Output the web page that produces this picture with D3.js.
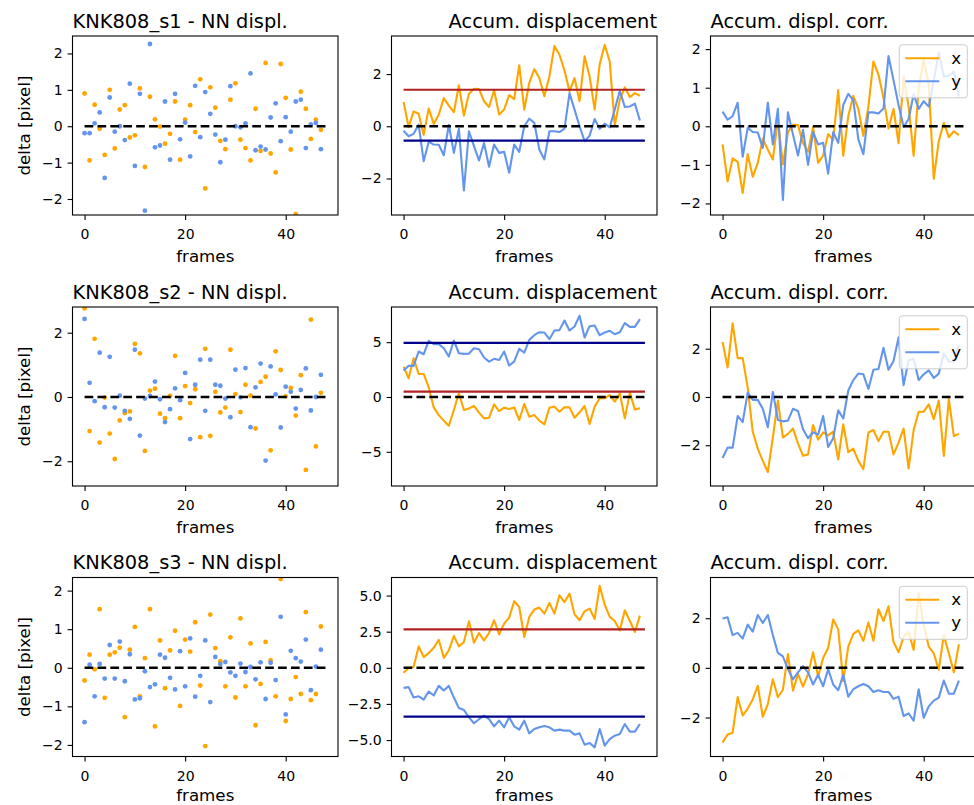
<!DOCTYPE html>
<html lang="en">
<head>
  <meta charset="utf-8">
  <title>NN displacement</title>
  <style>
    body { margin: 0; background: #fff; }
    svg { display: block; font-family: "DejaVu Sans", sans-serif; }
    .axis text { font: 14px "DejaVu Sans", sans-serif; fill: #000; }
    .axis line { stroke: #000; stroke-width: 1.1; }
    .title { font-size: 19.4px; fill: #000; }
    .label { font-size: 16.7px; fill: #000; }
    .legend text { font-size: 16.7px; fill: #000; }
  </style>
</head>
<body>
  <script src="https://cdn.jsdelivr.net/npm/d3@7"></script>
  <script>
    // frames and samples
    var frames = d3.range(48);
    var samples = ["KNK808_s1", "KNK808_s2", "KNK808_s3"];

    // nearest neighbour displacement per frame
    var nnX1 = [0.90,-0.94,0.59,-0.07,-0.79,1.00,-0.61,0.46,0.58,-0.31,-0.25,1.04,-1.12,0.81,0.19,-0.01,-0.48,-0.21,0.68,-0.92,0.18,0.58,-0.16,1.29,-1.71,1.07,0.51,-0.40,-0.63,0.73,1.18,-0.37,-0.60,-0.94,0.48,-0.68,1.74,-0.75,-1.27,1.71,0.78,-0.64,-2.42,0.95,0.48,-0.35,0.18,-0.10];
    var nnY1 = [-0.19,-0.19,0.08,0.38,-1.42,0.79,-0.15,0.00,-0.38,1.17,-1.09,0.89,-2.32,2.26,-0.58,-0.53,0.68,-0.92,0.89,-0.36,0.10,-0.83,1.11,-0.30,0.94,0.34,-0.23,-0.99,-0.37,1.10,0.00,-0.03,0.08,1.45,-0.66,-0.56,-0.64,0.24,0.63,-0.41,0.25,-0.15,0.68,0.73,-0.60,0.05,0.09,-0.63];
    var nnX2 = [2.76,-1.06,1.81,-1.42,-0.02,-1.14,-1.93,-0.73,-0.50,-0.45,1.65,1.36,-1.68,0.20,0.26,-0.52,-0.66,0.03,1.28,-0.66,0.34,-0.19,0.24,-1.25,1.50,-1.21,0.16,-0.48,-0.33,1.47,0.09,-0.47,0.38,0.04,-0.98,0.47,0.63,-1.66,1.42,0.84,0.02,0.28,-0.58,0.68,-2.27,2.41,-1.54,0.13];
    var nnY2 = [2.43,0.44,-0.13,1.38,-0.32,1.25,-0.33,0.04,-0.43,-0.68,1.47,-1.20,-0.05,0.03,0.48,-0.07,-0.78,-0.38,0.27,-0.10,0.75,-1.31,0.38,1.16,-0.43,1.16,0.38,0.35,-0.05,-0.63,0.85,-0.01,0.90,-0.94,0.30,1.04,-1.98,0.95,0.08,-0.95,0.32,0.16,-0.36,0.22,0.89,-0.42,0.00,0.69];
    var nnX3 = [-0.33,0.34,-0.04,1.52,-0.78,0.34,0.40,0.52,-1.28,0.47,1.06,-0.74,0.25,1.52,-1.52,0.71,-0.53,0.45,0.96,-0.99,0.73,0.42,1.18,-0.46,-2.03,1.38,0.51,0.17,-0.48,0.79,-0.77,1.28,-0.48,0.63,-1.49,-0.42,0.67,0.19,-0.74,2.30,-1.38,-0.81,-0.24,-0.68,1.44,-0.84,-0.68,1.07];
    var nnY3 = [-1.41,0.08,-0.74,0.10,-0.28,0.59,-0.28,0.68,-0.35,0.35,-0.82,-0.79,-0.09,-0.50,-0.43,0.34,0.26,-0.26,-0.56,0.43,-0.48,0.76,-0.75,-0.21,0.71,-0.89,0.28,0.10,0.15,-0.12,-0.21,0.11,-0.11,0.02,-0.30,0.14,-0.81,0.13,-0.32,1.32,-1.21,0.44,0.25,0.16,0.73,-0.58,0.03,0.47];

    // accumulated displacement
    var accX1 = [0.93,-0.03,0.57,0.48,-0.33,0.68,0.09,0.45,1.08,0.79,0.54,1.57,0.41,1.25,1.44,1.43,0.96,0.74,1.38,0.45,0.64,1.20,1.04,2.34,0.64,1.66,2.19,1.85,1.15,1.91,3.08,2.74,2.14,1.34,1.85,0.96,2.68,1.91,0.64,2.38,3.12,2.48,0.04,1.02,1.49,1.12,1.27,1.17];
    var accY1 = [-0.17,-0.38,-0.29,0.06,-1.34,-0.59,-0.70,-0.71,-1.11,0.06,-1.02,-0.10,-2.46,-0.19,-0.76,-1.31,-0.64,-1.55,-0.70,-1.02,-0.98,-1.78,-0.70,-0.98,0.00,0.29,0.13,-0.89,-1.27,-0.19,-0.19,-0.22,-0.09,1.27,0.64,0.00,-0.57,-0.36,0.28,-0.10,0.10,-0.04,0.64,1.36,0.74,0.76,0.87,0.22];
    var accX2 = [2.77,1.71,3.54,2.10,2.10,0.88,-0.95,-1.65,-2.16,-2.62,-1.19,0.34,-1.19,-1.04,-0.82,-1.43,-1.95,-1.89,-0.67,-1.28,-0.98,-1.10,-0.95,-2.10,-0.64,-1.80,-1.65,-2.16,-2.50,-0.98,-0.88,-1.34,-0.95,-0.95,-1.89,-1.40,-0.82,-2.47,-0.88,-0.12,-0.12,0.18,-0.43,0.34,-1.95,0.40,-1.13,-1.04];
    var accY2 = [2.41,2.84,2.84,4.15,3.90,5.12,4.82,4.82,4.45,3.69,5.15,3.99,3.93,3.96,4.45,4.36,3.60,3.23,3.48,3.38,4.15,2.87,3.23,4.39,4.05,5.21,5.64,5.91,5.88,5.27,6.07,6.10,6.98,6.07,6.43,7.41,5.43,6.46,6.52,5.64,5.88,6.04,5.73,5.91,6.74,6.40,6.40,7.10];
    var accX3 = [-0.35,-0.02,0.05,1.48,0.74,1.02,1.39,1.94,0.69,1.20,2.20,1.48,1.78,3.22,1.74,2.41,1.90,2.41,3.29,2.31,3.06,3.47,4.61,4.21,2.13,3.52,4.03,4.17,3.75,4.49,3.75,5.02,4.54,5.14,3.70,3.29,3.91,4.10,3.38,5.67,4.38,3.52,3.24,2.59,3.98,3.24,2.48,3.61];
    var accY3 = [-1.39,-1.34,-2.06,-1.97,-2.20,-1.64,-1.92,-1.25,-1.57,-1.25,-2.06,-2.78,-2.92,-3.43,-3.84,-3.56,-3.31,-3.56,-4.05,-3.66,-4.12,-3.43,-4.05,-4.28,-3.66,-4.54,-4.24,-4.12,-4.03,-4.12,-4.35,-4.28,-4.35,-4.35,-4.63,-4.54,-5.32,-5.21,-5.51,-4.24,-5.39,-4.93,-4.70,-4.58,-3.89,-4.42,-4.42,-3.89];

    // reference levels drawn on the accumulated panels
    var levelX = [1.40, 0.49, 2.66];
    var levelY = [-0.55, 4.94, -3.38];

    // corrected accumulated displacement
    var corrX1 = [-0.47,-1.43,-0.83,-0.92,-1.73,-0.72,-1.31,-0.95,-0.32,-0.61,-0.86,0.17,-0.99,-0.15,0.04,0.03,-0.44,-0.66,-0.02,-0.95,-0.76,-0.20,-0.36,0.94,-0.76,0.26,0.79,0.45,-0.25,0.51,1.68,1.34,0.74,-0.06,0.45,-0.44,1.28,0.51,-0.76,0.98,1.72,1.08,-1.36,-0.38,0.09,-0.28,-0.13,-0.23];
    var corrY1 = [0.38,0.17,0.26,0.61,-0.79,-0.04,-0.15,-0.16,-0.56,0.61,-0.47,0.45,-1.91,0.36,-0.21,-0.76,-0.09,-1.00,-0.15,-0.47,-0.43,-1.23,-0.15,-0.43,0.55,0.84,0.68,-0.34,-0.72,0.36,0.36,0.33,0.46,1.82,1.19,0.55,-0.02,0.19,0.83,0.45,0.65,0.51,1.19,1.91,1.29,1.31,1.42,0.77];
    var corrX2 = [2.28,1.22,3.05,1.61,1.61,0.39,-1.44,-2.14,-2.65,-3.11,-1.68,-0.15,-1.68,-1.53,-1.31,-1.92,-2.44,-2.38,-1.16,-1.77,-1.47,-1.59,-1.44,-2.59,-1.13,-2.29,-2.14,-2.65,-2.99,-1.47,-1.37,-1.83,-1.44,-1.44,-2.38,-1.89,-1.31,-2.96,-1.37,-0.61,-0.61,-0.31,-0.92,-0.15,-2.44,-0.09,-1.62,-1.53];
    var corrY2 = [-2.53,-2.10,-2.10,-0.79,-1.04,0.18,-0.12,-0.12,-0.49,-1.25,0.21,-0.95,-1.01,-0.98,-0.49,-0.58,-1.34,-1.71,-1.46,-1.56,-0.79,-2.07,-1.71,-0.55,-0.89,0.27,0.70,0.97,0.94,0.33,1.13,1.16,2.04,1.13,1.49,2.47,0.49,1.52,1.58,0.70,0.94,1.10,0.79,0.97,1.80,1.46,1.46,2.16];
    var corrX3 = [-3.01,-2.68,-2.61,-1.18,-1.92,-1.64,-1.27,-0.72,-1.97,-1.46,-0.46,-1.18,-0.88,0.56,-0.92,-0.25,-0.76,-0.25,0.63,-0.35,0.40,0.81,1.95,1.55,-0.53,0.86,1.37,1.51,1.09,1.83,1.09,2.36,1.88,2.48,1.04,0.63,1.25,1.44,0.72,3.01,1.72,0.86,0.58,-0.07,1.32,0.58,-0.18,0.95];
    var corrY3 = [1.99,2.04,1.32,1.41,1.18,1.74,1.46,2.13,1.81,2.13,1.32,0.60,0.46,-0.05,-0.46,-0.18,0.07,-0.18,-0.67,-0.28,-0.74,-0.05,-0.67,-0.90,-0.28,-1.16,-0.86,-0.74,-0.65,-0.74,-0.97,-0.90,-0.97,-0.97,-1.25,-1.16,-1.94,-1.83,-2.13,-0.86,-2.01,-1.55,-1.32,-1.20,-0.51,-1.04,-1.04,-0.51];

    // tick labels
    var xTicks = [0, 20, 40];
    var yTicks = [
      [[-2, -1, 0, 1, 2], [-2, 0, 2], [-2, -1, 0, 1, 2]],
      [[-2, 0, 2], [-5, 0, 5], [-2, 0, 2]],
      [[-2, -1, 0, 1, 2], [-5, -2.5, 0, 2.5, 5], [-2, 0, 2]]
    ];
    var legendLabels = ["x", "y"];

    var nnX = [nnX1, nnX2, nnX3], nnY = [nnY1, nnY2, nnY3];
    var accX = [accX1, accX2, accX3], accY = [accY1, accY2, accY3];
    var corrX = [corrX1, corrX2, corrX3], corrY = [corrY1, corrY2, corrY3];

    // layout
    var lefts = [72.5, 391.5, 710.5], W = 265.5;
    var tops = [36, 307, 577.5], H = 179;
    var xDomain = [-2.4, 50.4];
    var yDomains = [
      [[-2.44, 2.48], [-3.40, 3.46], [-2.30, 2.34]],
      [[-2.77, 2.80], [-8.12, 8.21], [-3.69, 3.73]],
      [[-2.30, 2.34], [-6.14, 6.25], [-3.57, 3.64]]
    ];
    var colX = "#ffa500", colY = "#6495ed";

    var svg = d3.select("body").append("svg")
        .attr("width", 974)
        .attr("height", 805);

    function makePanel(r, c) {
      var x0 = lefts[c], y0 = tops[r];
      var x = d3.scaleLinear().domain(xDomain).range([x0, x0 + W]);
      var y = d3.scaleLinear().domain(yDomains[r][c]).range([y0 + H, y0]);
      var fmt = (r == 2 && c == 1) ? d3.format(".1f") : d3.format("d");

      var clipId = "clip-" + r + "-" + c;
      svg.append("clipPath").attr("id", clipId)
        .append("rect")
        .attr("x", x0).attr("y", y0).attr("width", W).attr("height", H);

      var plot = svg.append("g").attr("clip-path", "url(#" + clipId + ")");

      svg.append("g")
          .attr("class", "axis")
          .attr("transform", "translate(0," + (y0 + H) + ")")
          .call(d3.axisBottom(x).tickValues(xTicks).tickSize(4.9).tickPadding(4.9))
          .selectAll("text").attr("y", 14.1);

      svg.append("g")
          .attr("class", "axis")
          .attr("transform", "translate(" + x0 + ",0)")
          .call(d3.axisLeft(y).tickValues(yTicks[r][c]).tickFormat(fmt).tickSize(4.9).tickPadding(4.9));

      svg.selectAll(".axis .domain").remove();

      svg.append("rect")
          .attr("x", x0).attr("y", y0).attr("width", W).attr("height", H)
          .attr("fill", "none").attr("stroke", "#000").attr("stroke-width", 1.1);

      // keep the bottom row label inside the picture
      svg.append("text")
          .attr("class", "label")
          .attr("x", x0 + W / 2)
          .attr("y", Math.min(y0 + H + 46.6, 800.5))
          .attr("text-anchor", "middle")
          .text("frames");

      return { x: x, y: y, plot: plot, x0: x0, y0: y0 };
    }

    function zeroLine(p) {
      p.plot.append("line")
          .attr("x1", p.x(frames[0])).attr("x2", p.x(frames.length))
          .attr("y1", p.y(0)).attr("y2", p.y(0))
          .attr("stroke", "#000").attr("stroke-width", 2.5)
          .attr("stroke-dasharray", "8.7,4.2");
    }

    function seriesLine(p, vals, color) {
      var line = d3.line()
          .x(function(d, i) { return p.x(frames[i]); })
          .y(function(d) { return p.y(d); });
      p.plot.append("path")
          .datum(vals)
          .attr("d", line)
          .attr("fill", "none")
          .attr("stroke", color)
          .attr("stroke-width", 2.1)
          .attr("stroke-linejoin", "round");
    }

    function levelLine(p, v, color) {
      p.plot.append("line")
          .attr("x1", p.x(frames[0])).attr("x2", p.x(frames.length))
          .attr("y1", p.y(v)).attr("y2", p.y(v))
          .attr("stroke", color).attr("stroke-width", 2.1);
    }

    function dots(p, vals, color) {
      p.plot.selectAll(null)
          .data(vals)
          .enter().append("circle")
          .attr("cx", function(d, i) { return p.x(frames[i]); })
          .attr("cy", function(d) { return p.y(d); })
          .attr("r", 2.4)
          .attr("fill", color);
    }

    for (var r = 0; r < 3; r++) {
      // NN displacement scatter
      var p1 = makePanel(r, 0);
      dots(p1, nnX[r], colX);
      dots(p1, nnY[r], colY);
      zeroLine(p1);
      svg.append("text").attr("class", "title")
          .attr("x", p1.x0).attr("y", p1.y0 - 8.3)
          .text(samples[r] + " - NN displ.");
      svg.append("text").attr("class", "label")
          .attr("transform", "translate(23.7," + (p1.y0 + H / 2) + ") rotate(-90)")
          .attr("text-anchor", "middle")
          .attr("dy", "0.35em")
          .text("delta [pixel]");

      // accumulated displacement
      var p2 = makePanel(r, 1);
      seriesLine(p2, accX[r], colX);
      seriesLine(p2, accY[r], colY);
      levelLine(p2, levelX[r], "#b22222");
      levelLine(p2, levelY[r], "#00008b");
      zeroLine(p2);
      svg.append("text").attr("class", "title")
          .attr("x", p2.x0 + W).attr("y", p2.y0 - 8.3)
          .attr("text-anchor", "end")
          .text("Accum. displacement");

      // corrected accumulated displacement
      var p3 = makePanel(r, 2);
      seriesLine(p3, corrX[r], colX);
      seriesLine(p3, corrY[r], colY);
      zeroLine(p3);
      svg.append("text").attr("class", "title")
          .attr("x", p3.x0).attr("y", p3.y0 - 8.3)
          .text("Accum. displ. corr.");

      // legend
      var lx = p3.x0 + W - 76.7, ly = p3.y0 + 8.8;
      var lg = svg.append("g").attr("class", "legend");
      lg.append("rect")
          .attr("x", lx).attr("y", ly).attr("width", 68).attr("height", 53)
          .attr("rx", 3)
          .attr("fill", "#fff").attr("fill-opacity", 0.8)
          .attr("stroke", "#ccc");
      [colX, colY].forEach(function(col, k) {
        var yy = ly + 13.5 + k * 23.0;
        lg.append("line")
            .attr("x1", lx + 6).attr("x2", lx + 40)
            .attr("y1", yy).attr("y2", yy)
            .attr("stroke", col).attr("stroke-width", 2.1);
        lg.append("text")
            .attr("x", lx + 52).attr("y", yy)
            .attr("dy", "0.32em")
            .text(legendLabels[k]);
      });
    }
  </script>
</body>
</html>
